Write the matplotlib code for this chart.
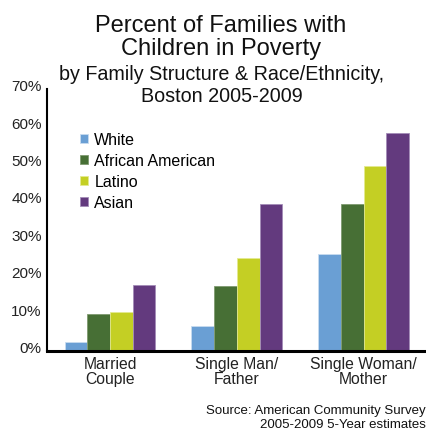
import numpy as np
import matplotlib.pyplot as plt
import matplotlib.transforms as mtransforms

plt.rcParams["font.family"] = ["Liberation Sans", "DejaVu Sans"]

categories = ["Married\nCouple", "Single Man/\nFather", "Single Woman/\nMother"]
groups = ["White", "African American", "Latino", "Asian"]
values = {
    "White": [2.4, 6.7, 25.8],
    "African American": [9.8, 17.3, 39.2],
    "Latino": [10.3, 24.9, 49.4],
    "Asian": [17.6, 39.2, 58.3],
}
colors = ["#6a9fd4", "#476f35", "#c4cf24", "#633a7e"]
edges = ["#c8dcf0", "#7f9a70", "#e4ea90", "#a48cb8"]
yticks = [0, 10, 20, 30, 40, 50, 60, 70]

W, H = 427, 431
fig = plt.figure(figsize=(W / 100, H / 100), dpi=100)
ax = fig.add_axes([46.7 / W, 1 - 351.7 / H, (W - 46.7) / W, (351.7 - 90) / H])

x = np.arange(len(categories))
w = 0.179
for i, g in enumerate(groups):
    ax.bar(x + (i - 1.5) * w, values[g], w, color=colors[i], edgecolor=edges[i],
           linewidth=0.6, label=g, zorder=2)

ax.set_xlim(-0.5, 2.5)
ax.set_ylim(0, 70)
ax.set_yticks(yticks)
ax.set_yticklabels([f"{t}%" for t in yticks], fontsize=11, color="#222222")
ax.set_xticks(x)
ax.set_xticklabels(categories, fontsize=11.3, color="#222222", linespacing=1.0)
ax.tick_params(length=0)
ax.tick_params(axis="y", pad=3.5)
ax.tick_params(axis="x", pad=4)
# y labels sit a little above their values in the original
up = mtransforms.ScaledTranslation(0, 3 / 72, fig.dpi_scale_trans)
for lab in ax.get_yticklabels():
    lab.set_transform(lab.get_transform() + up)
for s in ["top", "right"]:
    ax.spines[s].set_visible(False)
ax.spines["left"].set_linewidth(1.5)
ax.spines["bottom"].set_linewidth(2.2)

ax.legend(loc="upper left", bbox_to_anchor=((80 - 46.7) / 380.3, 0.835), frameon=False,
          fontsize=11.5, handlelength=0.5, handleheight=0.5,
          handletextpad=0.4, labelspacing=0.37, borderpad=0, borderaxespad=0)

def fy(py):
    return 1 - py / H

txt = dict(color="#111111", va="baseline")
fig.text(221 / W, fy(32), "Percent of Families with", ha="center", fontsize=17, **txt)
fig.text(221 / W, fy(55), "Children in Poverty", ha="center", fontsize=17, **txt)
fig.text(221.5 / W, fy(80), "by Family Structure & Race/Ethnicity,", ha="center",
         fontsize=14.2, **txt)
fig.text(221.5 / W, fy(102), "Boston 2005-2009", ha="center", fontsize=14.2, **txt)
fig.text(426 / W, fy(414), "Source: American Community Survey", ha="right",
         fontsize=9.5, **txt)
fig.text(426 / W, fy(428), "2005-2009 5-Year estimates", ha="right", fontsize=9.5, **txt)

fig.savefig("out.png", dpi=100)
